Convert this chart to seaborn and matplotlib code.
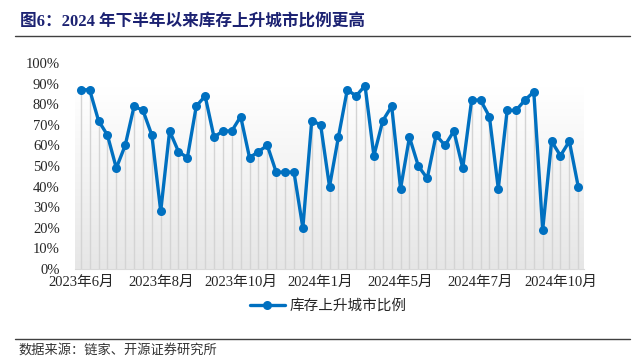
import numpy as np
import seaborn as sns
import matplotlib.pyplot as plt
from matplotlib.colors import LinearSegmentedColormap
from matplotlib.lines import Line2D

# share of cities with rising inventory (%)
ratio = [87, 87, 72, 65, 49, 60, 79, 77, 65, 28, 67, 57, 54, 79, 84, 64,
         67, 67, 74, 54, 57, 60, 47, 47, 47, 20, 72, 70, 40, 64, 87, 84,
         89, 55, 72, 79, 39, 64, 50, 44, 65, 60, 67, 49, 82, 82, 74, 39,
         77, 77, 82, 86, 19, 62, 55, 62, 40]
tick_labels = ["2023年6月", "2023年8月", "2023年10月", "2024年1月",
               "2024年5月", "2024年7月", "2024年10月"]
y_labels = ["0%", "10%", "20%", "30%", "40%", "50%", "60%", "70%", "80%", "90%", "100%"]
series_name = "库存上升城市比例"
title = "图6：2024 年下半年以来库存上升城市比例更高"
source = "数据来源：链家、开源证券研究所"

sns.set_style("white")
plt.rcParams['font.family'] = ['Liberation Serif', 'Noto Sans CJK SC', 'DejaVu Sans']

blue = "#0070C0"
idx = np.arange(len(ratio))
vals = np.array(ratio) / 100

fig = plt.figure(figsize=(6.4, 3.57), dpi=100)
ax = fig.add_axes([75 / 640, 1 - 269 / 357, (584 - 75) / 640, (269 - 63) / 357])

xmin, xmax = -0.65, len(ratio) - 1 + 0.65
# plot area gradient: grey at the bottom fading to white near the top
grad = np.linspace(0, 1, 256).reshape(-1, 1)
cmap = LinearSegmentedColormap.from_list("g", ["#e6e6e6", "#ffffff"])
ax.imshow(grad, extent=[xmin, xmax, 0, 0.88], aspect="auto", cmap=cmap,
          origin="lower", zorder=0)

# drop lines
ax.vlines(idx, 0, vals, color="#d4d4d4", lw=1, zorder=1)

sns.lineplot(x=idx, y=vals, ax=ax, color=blue, lw=2.4, marker="o",
             markersize=6.5, markeredgewidth=0, zorder=3, legend=False)

ax.set_xlim(xmin, xmax)
ax.set_ylim(0, 1)
ax.set_yticks(np.linspace(0, 1, 11))
ax.set_yticklabels(y_labels, fontsize=10.5, color="#262626")
ax.set_xticks(idx[::9])
ax.set_xticklabels(tick_labels, fontsize=10.5, color="#262626")
ax.tick_params(axis="both", length=0)
ax.tick_params(axis="y", pad=11)
ax.tick_params(axis="x", pad=5)
ax.set_xlabel("")
ax.set_ylabel("")
for s in ["top", "right", "left"]:
    ax.spines[s].set_visible(False)
ax.spines["bottom"].set_color("#d9d9d9")
ax.grid(False)

handle = Line2D([], [], color=blue, lw=2.4, marker="o", markersize=6.5, markeredgewidth=0)
fig.legend([handle], [series_name], loc="center", bbox_to_anchor=(328 / 640, 1 - 306 / 357),
           frameon=False, handlelength=2.4, handletextpad=0.3,
           prop={"family": ["Noto Sans CJK SC"], "size": 10.5})

fig.text(20 / 640, 1 - 22 / 357, title, fontsize=12, fontweight="bold", color="#1c2272",
         va="center", ha="left", family=["Liberation Serif", "Noto Sans CJK SC"])
fig.add_artist(Line2D([15 / 640, 630 / 640], [1 - 36 / 357] * 2, color="#404040", lw=1))
fig.add_artist(Line2D([15 / 640, 630 / 640], [1 - 339 / 357] * 2, color="#404040", lw=1))
fig.text(18 / 640, 1 - 350 / 357, source, fontsize=9.5, color="#333333",
         va="center", ha="left", family=["Noto Sans CJK SC"])

fig.savefig("out.png", dpi=100)
